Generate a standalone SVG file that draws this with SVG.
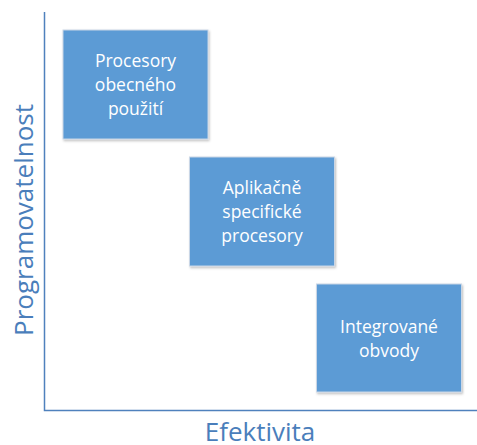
<svg xmlns="http://www.w3.org/2000/svg" width="477" height="445" viewBox="0 0 477 445">
  <defs>
    <filter id="shadow" x="-10%" y="-10%" width="120%" height="120%">
      <feDropShadow dx="1" dy="1.5" stdDeviation="1.2" flood-color="#000" flood-opacity="0.25"/>
    </filter>
  </defs>
  <style>
    .box { fill: #5B9BD5; stroke: #C9D6E6; stroke-width: 1; filter: url(#shadow); }
    .label { font-family: "Open Sans", "Liberation Sans", sans-serif; font-size: 17.5px; fill: #FFFFFF; text-anchor: middle; }
    .axis { stroke: #4F81BD; stroke-width: 1.5; fill: none; }
    .axis-title { font-family: "Open Sans", "Liberation Sans", sans-serif; font-size: 26px; fill: #4A7EBB; text-anchor: middle; }
  </style>
  <rect width="477" height="445" fill="#FFFFFF"/>

  <g id="axes">
    <polyline class="axis" points="44.5,12 44.5,410.5 477,410.5"/>
    <text class="axis-title" x="260" y="441" font-size="27">Efektivita</text>
    <text class="axis-title" transform="translate(33,220) rotate(-90)">Programovatelnost</text>
  </g>

  <g id="node-general">
    <rect class="box" x="63" y="30" width="145" height="109"/>
    <text class="label" x="135.5" y="67">Procesory</text>
    <text class="label" x="135.5" y="91">obecného</text>
    <text class="label" x="135.5" y="115">použití</text>
  </g>

  <g id="node-asip">
    <rect class="box" x="189.5" y="157" width="145" height="109"/>
    <text class="label" x="262" y="194">Aplikačně</text>
    <text class="label" x="262" y="218">specifické</text>
    <text class="label" x="262" y="242">procesory</text>
  </g>

  <g id="node-ic">
    <rect class="box" x="316.5" y="284" width="145" height="108"/>
    <text class="label" x="389" y="333">Integrované</text>
    <text class="label" x="389" y="357">obvody</text>
  </g>
</svg>
